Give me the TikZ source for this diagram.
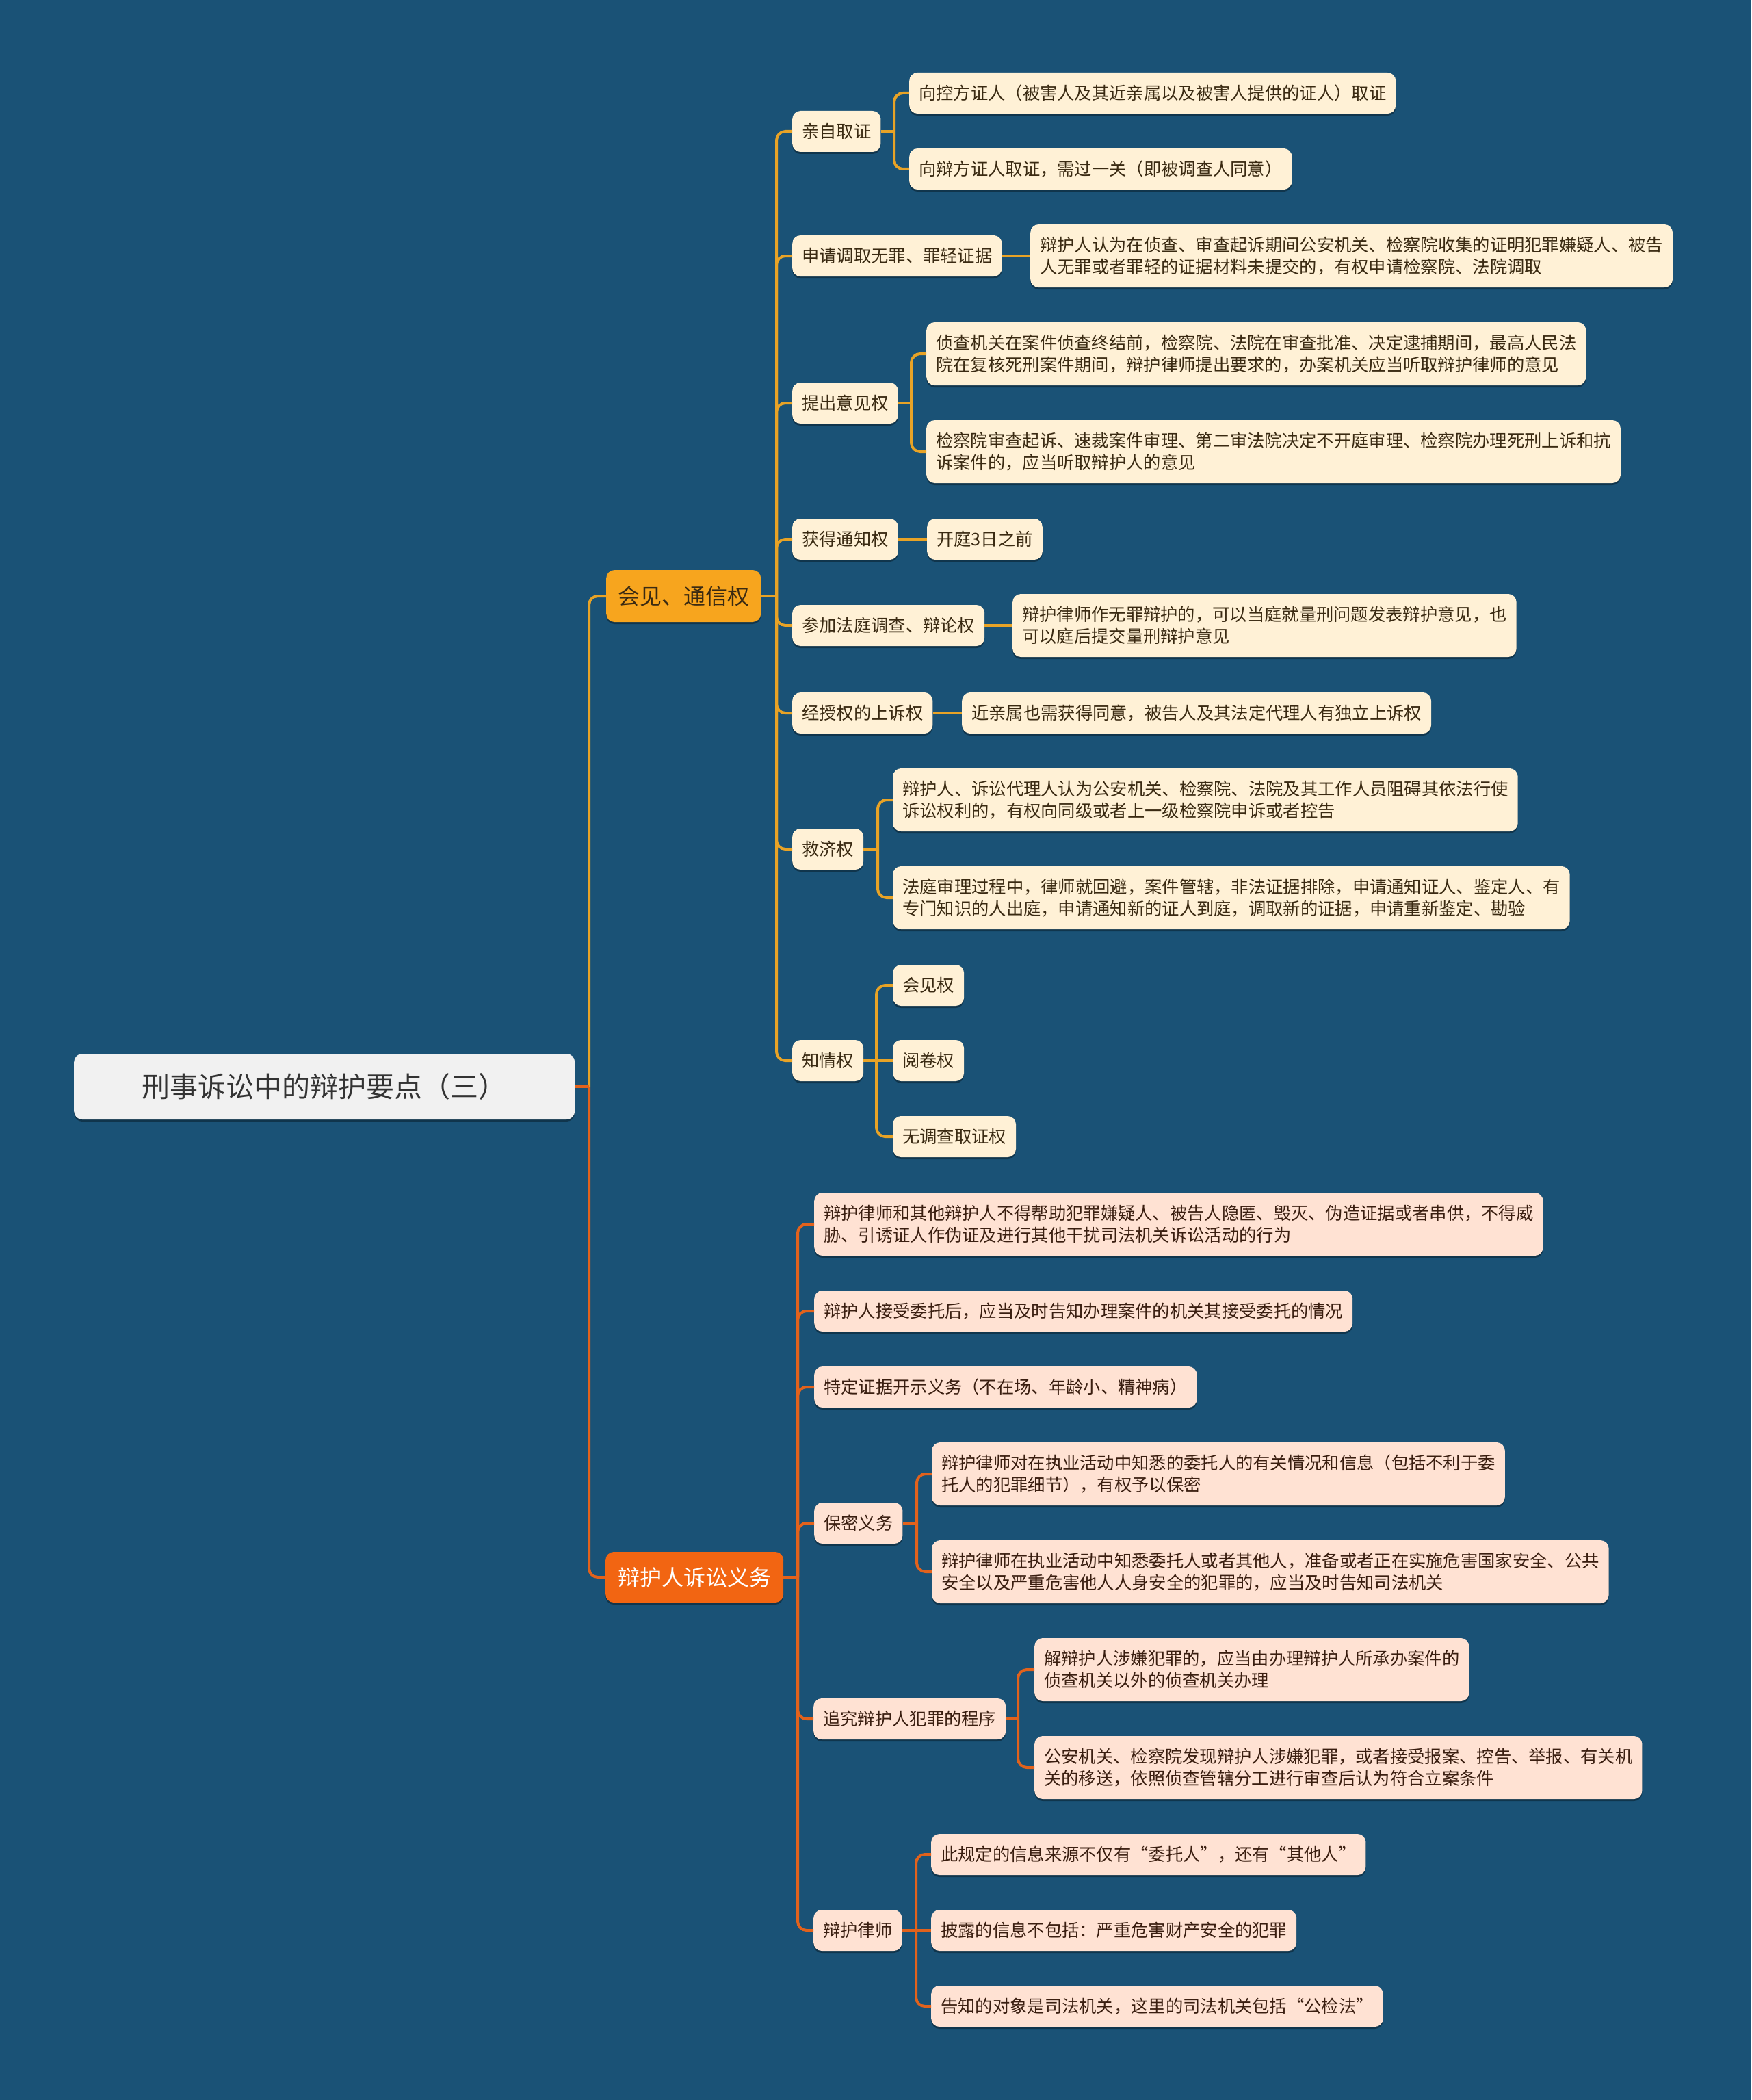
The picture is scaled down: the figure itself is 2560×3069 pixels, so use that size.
\documentclass[tikz,border=0pt]{standalone}
\usepackage{fontspec}
\setmainfont{Noto Sans CJK SC}
\usetikzlibrary{shadows}
\definecolor{bg}{HTML}{1A5276}
\definecolor{leafU}{HTML}{FFF1D6}
\definecolor{leafD}{HTML}{FFE2D3}
\definecolor{txtU}{HTML}{3A2A12}
\definecolor{txtD}{HTML}{3A1E10}
\definecolor{lineU}{HTML}{E8A326}
\definecolor{lineD}{HTML}{E2621C}
\definecolor{brU}{HTML}{F7A51E}
\definecolor{brD}{HTML}{F26512}
\definecolor{rootc}{HTML}{F1F1F1}
\tikzset{
 sh/.style={drop shadow={shadow xshift=0pt, shadow yshift=-3pt, opacity=0.35, fill=black}},
 box/.style={rounded corners=12pt, inner xsep=14pt, inner ysep=0pt, anchor=west, align=left,
   font=\fontsize{25.3}{32}\selectfont, minimum height=60pt, sh},
 tall/.style={minimum height=92pt},
 ubox/.style={box, fill=leafU, text=txtU},
 dbox/.style={box, fill=leafD, text=txtD},
 cy/.style={draw=lineU, line width=4pt},
 co/.style={draw=lineD, line width=4pt},
 rc/.style={rounded corners=13pt},
}
\begin{document}
\begin{tikzpicture}[x=1pt,y=-1pt]
\fill[bg] (0,0) rectangle (2560,3069);
\useasboundingbox (0,0) rectangle (2560,3069);

% root and branches
\node[box, fill=rootc, text=black!80, minimum width=732pt, minimum height=96pt, align=center,
  font=\fontsize{41}{48}\selectfont] (root) at (108,1588) {刑事诉讼中的辩护要点（三）};
\node[box, fill=brU, text=txtU, minimum width=226pt, minimum height=76pt, align=center,
  font=\fontsize{32}{38}\selectfont] (b1) at (886,871) {会见、通信权};
\node[box, fill=brD, text=white, minimum width=260pt, minimum height=74pt, align=center,
  font=\fontsize{32}{38}\selectfont] (b2) at (885,2305) {辩护人诉讼义务};

% upper branch
\node[ubox] (u1) at (1158,192) {亲自取证};
\node[ubox] (u1a) at (1329,136) {向控方证人（被害人及其近亲属以及被害人提供的证人）取证};
\node[ubox] (u1b) at (1329,247) {向辩方证人取证，需过一关（即被调查人同意）};
\node[ubox] (u2) at (1158,374) {申请调取无罪、罪轻证据};
\node[ubox,tall] (u2a) at (1506,374) {辩护人认为在侦查、审查起诉期间公安机关、检察院收集的证明犯罪嫌疑人、被告\\人无罪或者罪轻的证据材料未提交的，有权申请检察院、法院调取};
\node[ubox] (u3) at (1158,589) {提出意见权};
\node[ubox,tall] (u3a) at (1354,517) {侦查机关在案件侦查终结前，检察院、法院在审查批准、决定逮捕期间，最高人民法\\院在复核死刑案件期间，辩护律师提出要求的，办案机关应当听取辩护律师的意见};
\node[ubox,tall] (u3b) at (1354,660) {检察院审查起诉、速裁案件审理、第二审法院决定不开庭审理、检察院办理死刑上诉和抗\\诉案件的，应当听取辩护人的意见};
\node[ubox] (u4) at (1158,788) {获得通知权};
\node[ubox] (u4a) at (1355,788) {开庭3日之前};
\node[ubox] (u5) at (1158,914) {参加法庭调查、辩论权};
\node[ubox,tall] (u5a) at (1480,914) {辩护律师作无罪辩护的，可以当庭就量刑问题发表辩护意见，也\\可以庭后提交量刑辩护意见};
\node[ubox] (u6) at (1158,1042) {经授权的上诉权};
\node[ubox] (u6a) at (1406,1042) {近亲属也需获得同意，被告人及其法定代理人有独立上诉权};
\node[ubox] (u7) at (1158,1241) {救济权};
\node[ubox,tall] (u7a) at (1305,1169) {辩护人、诉讼代理人认为公安机关、检察院、法院及其工作人员阻碍其依法行使\\诉讼权利的，有权向同级或者上一级检察院申诉或者控告};
\node[ubox,tall] (u7b) at (1305,1312) {法庭审理过程中，律师就回避，案件管辖，非法证据排除，申请通知证人、鉴定人、有\\专门知识的人出庭，申请通知新的证人到庭，调取新的证据，申请重新鉴定、勘验};
\node[ubox] (u8) at (1158,1550) {知情权};
\node[ubox] (u8a) at (1305,1440) {会见权};
\node[ubox] (u8b) at (1305,1550) {阅卷权};
\node[ubox] (u8c) at (1305,1661) {无调查取证权};

% lower branch
\node[dbox,tall] (d1) at (1190,1789) {辩护律师和其他辩护人不得帮助犯罪嫌疑人、被告人隐匿、毁灭、伪造证据或者串供，不得威\\胁、引诱证人作伪证及进行其他干扰司法机关诉讼活动的行为};
\node[dbox] (d2) at (1190,1916) {辩护人接受委托后，应当及时告知办理案件的机关其接受委托的情况};
\node[dbox] (d3) at (1190,2027) {特定证据开示义务（不在场、年龄小、精神病）};
\node[dbox] (d4) at (1190,2226) {保密义务};
\node[dbox,tall] (d4a) at (1362,2154) {辩护律师对在执业活动中知悉的委托人的有关情况和信息（包括不利于委\\托人的犯罪细节），有权予以保密};
\node[dbox,tall] (d4b) at (1362,2297) {辩护律师在执业活动中知悉委托人或者其他人，准备或者正在实施危害国家安全、公共\\安全以及严重危害他人人身安全的犯罪的，应当及时告知司法机关};
\node[dbox] (d5) at (1189,2512) {追究辩护人犯罪的程序};
\node[dbox,tall] (d5a) at (1512,2440) {解辩护人涉嫌犯罪的，应当由办理辩护人所承办案件的\\侦查机关以外的侦查机关办理};
\node[dbox,tall] (d5b) at (1512,2583) {公安机关、检察院发现辩护人涉嫌犯罪，或者接受报案、控告、举报、有关机\\关的移送，依照侦查管辖分工进行审查后认为符合立案条件};
\node[dbox] (d6) at (1189,2821) {辩护律师};
\node[dbox] (d6a) at (1361,2710) {此规定的信息来源不仅有“委托人”，还有“其他人”};
\node[dbox] (d6b) at (1361,2821) {披露的信息不包括：严重危害财产安全的犯罪};
\node[dbox] (d6c) at (1361,2932) {告知的对象是司法机关，这里的司法机关包括“公检法”};

% junction points
\coordinate (J0) at (861,1588);
\coordinate (J1) at (1135,871);
\coordinate (J2) at (1166,2305);
\coordinate (J11) at (1307,192);
\coordinate (J13) at (1332,589);
\coordinate (J17) at (1283,1241);
\coordinate (J18) at (1281,1550);
\coordinate (J24) at (1340,2226);
\coordinate (J25) at (1488,2512);
\coordinate (J26) at (1339,2821);

% connectors: root
\draw[cy,rc] (J0) |- (b1.west);
\draw[co,rc] (J0) |- (b2.west);
\draw[co] (root.east) -- (J0);

% upper
\draw[cy] (b1.east) -- (J1);
\foreach \c in {u1,u2,u3,u4,u5,u6,u7,u8} {\draw[cy,rc] (J1) |- (\c.west);}
\draw[cy] (u1.east) -- (J11);
\draw[cy,rc] (J11) |- (u1a.west);
\draw[cy,rc] (J11) |- (u1b.west);
\draw[cy] (u2.east) -- (u2a.west);
\draw[cy] (u3.east) -- (J13);
\draw[cy,rc] (J13) |- (u3a.west);
\draw[cy,rc] (J13) |- (u3b.west);
\draw[cy] (u4.east) -- (u4a.west);
\draw[cy] (u5.east) -- (u5a.west);
\draw[cy] (u6.east) -- (u6a.west);
\draw[cy] (u7.east) -- (J17);
\draw[cy,rc] (J17) |- (u7a.west);
\draw[cy,rc] (J17) |- (u7b.west);
\draw[cy] (u8.east) -- (J18);
\draw[cy,rc] (J18) |- (u8a.west);
\draw[cy] (J18) -- (u8b.west);
\draw[cy,rc] (J18) |- (u8c.west);

% lower
\draw[co] (b2.east) -- (J2);
\foreach \c in {d1,d2,d3,d4,d5,d6} {\draw[co,rc] (J2) |- (\c.west);}
\draw[co] (d4.east) -- (J24);
\draw[co,rc] (J24) |- (d4a.west);
\draw[co,rc] (J24) |- (d4b.west);
\draw[co] (d5.east) -- (J25);
\draw[co,rc] (J25) |- (d5a.west);
\draw[co,rc] (J25) |- (d5b.west);
\draw[co] (d6.east) -- (J26);
\draw[co,rc] (J26) |- (d6a.west);
\draw[co] (J26) -- (d6b.west);
\draw[co,rc] (J26) |- (d6c.west);
\end{tikzpicture}
\end{document}
